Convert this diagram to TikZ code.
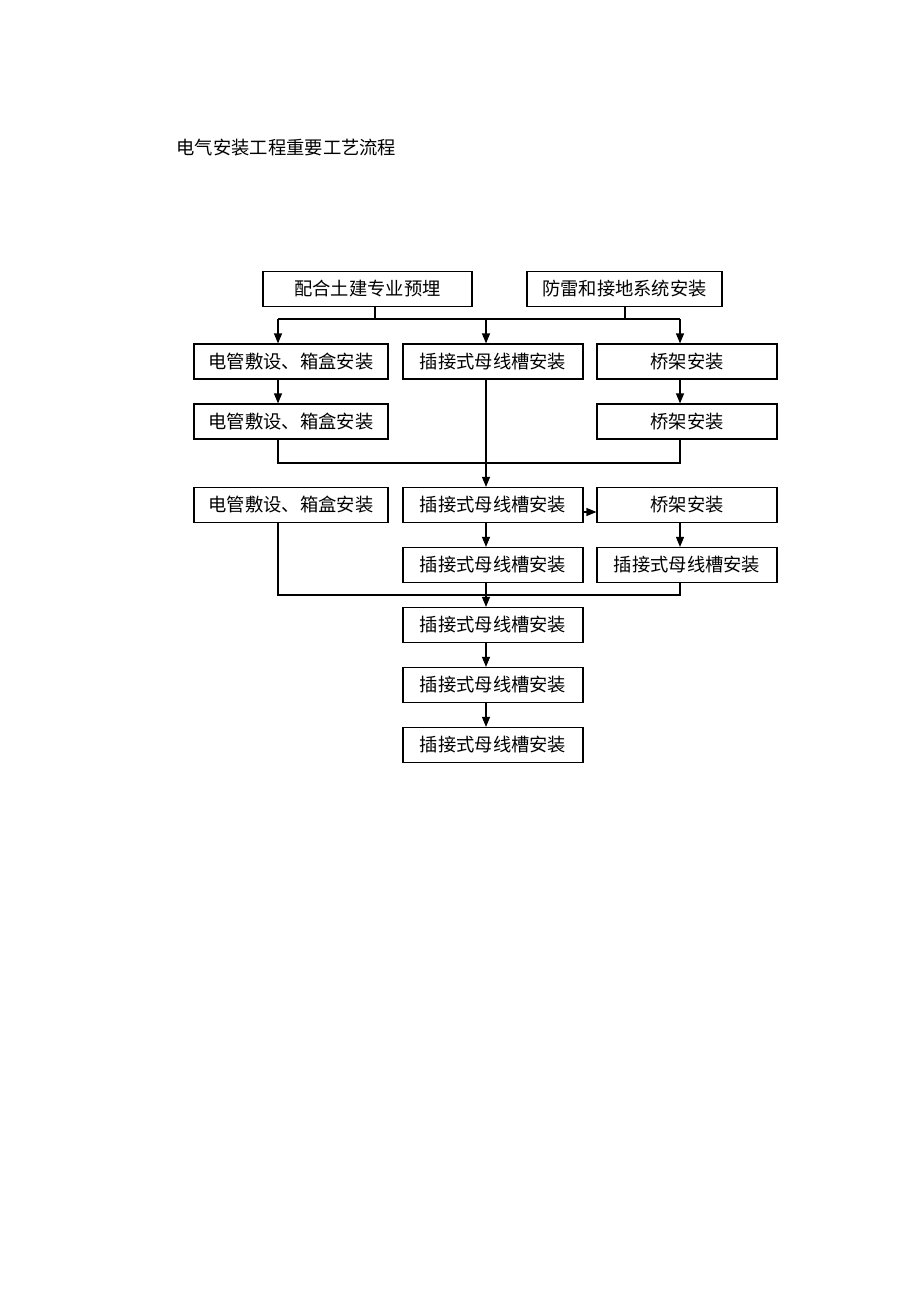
\documentclass[tikz,border=0pt]{standalone}
\usepackage{fontspec}
\newfontfamily\cjk{Noto Sans CJK SC}
\usetikzlibrary{arrows.meta}
\begin{document}
\begin{tikzpicture}[x=1pt,y=-1pt,line width=1.2pt,
  every node/.style={font=\cjk\fontsize{18.3}{20}\selectfont}
]

\tikzstyle{box}=[draw,rectangle,minimum height=35pt,inner sep=0pt]
\tikzstyle{arr}=[-{Triangle[length=10pt,width=8pt]}]

\useasboundingbox (0,0) rectangle (920,1300);

\node [anchor=west,inner sep=0pt] (title) at (176,148) {电气安装工程重要工艺流程};

% top row
\node [box,minimum width=209pt] (a) at (367.5,289) {配合土建专业预埋};
\node [box,minimum width=195pt] (b) at (624.5,289) {防雷和接地系统安装};

% left column
\node [box,minimum width=194pt] (c1) at (291,361.5) {电管敷设、箱盒安装};
\node [box,minimum width=194pt] (c2) at (291,421.5) {电管敷设、箱盒安装};
\node [box,minimum width=194pt] (c3) at (291,505) {电管敷设、箱盒安装};

% middle column
\node [box,minimum width=180pt] (d1) at (493,361.5) {插接式母线槽安装};
\node [box,minimum width=180pt] (d2) at (493,505) {插接式母线槽安装};
\node [box,minimum width=180pt] (d3) at (493,565) {插接式母线槽安装};
\node [box,minimum width=180pt] (d4) at (493,625) {插接式母线槽安装};
\node [box,minimum width=180pt] (d5) at (493,685) {插接式母线槽安装};
\node [box,minimum width=180pt] (d6) at (493,745) {插接式母线槽安装};

% right column
\node [box,minimum width=180pt] (e1) at (687,361.5) {桥架安装};
\node [box,minimum width=180pt] (e2) at (687,421.5) {桥架安装};
\node [box,minimum width=180pt] (e3) at (687,505) {桥架安装};
\node [box,minimum width=180pt] (e4) at (687,565) {插接式母线槽安装};

% joints
\coordinate (ja) at (375,319);
\coordinate (jb) at (625,319);
\coordinate (l1) at (278,319);
\coordinate (m1) at (486,319);
\coordinate (r1) at (680,319);
\coordinate (l2) at (278,463);
\coordinate (l3) at (278,595);
\coordinate (h) at (0,512);

\draw (a.south -| ja) -- (ja);
\draw (b.south -| jb) -- (jb);
\draw (l1) -- (r1);
\draw [arr] (l1) -- (l1 |- c1.north);
\draw [arr] (m1) -- (m1 |- d1.north);
\draw [arr] (r1) -- (r1 |- e1.north);

\draw [arr] (c1.south -| l1) -- (c2.north -| l1);
\draw [arr] (e1.south -| r1) -- (e2.north -| r1);
\draw (c2.south -| l2) -- (l2) -| (e2.south -| r1);
\draw [arr] (d1.south -| m1) -- (d2.north -| m1);

\draw [arr] (d2.east |- h) -- (e3.west |- h);
\draw [arr] (d2.south -| m1) -- (d3.north -| m1);
\draw [arr] (e3.south -| r1) -- (e4.north -| r1);
\draw (c3.south -| l3) -- (l3) -| (e4.south -| r1);

\draw [arr] (d3.south -| m1) -- (d4.north -| m1);
\draw [arr] (d4.south -| m1) -- (d5.north -| m1);
\draw [arr] (d5.south -| m1) -- (d6.north -| m1);
\end{tikzpicture}
\end{document}
